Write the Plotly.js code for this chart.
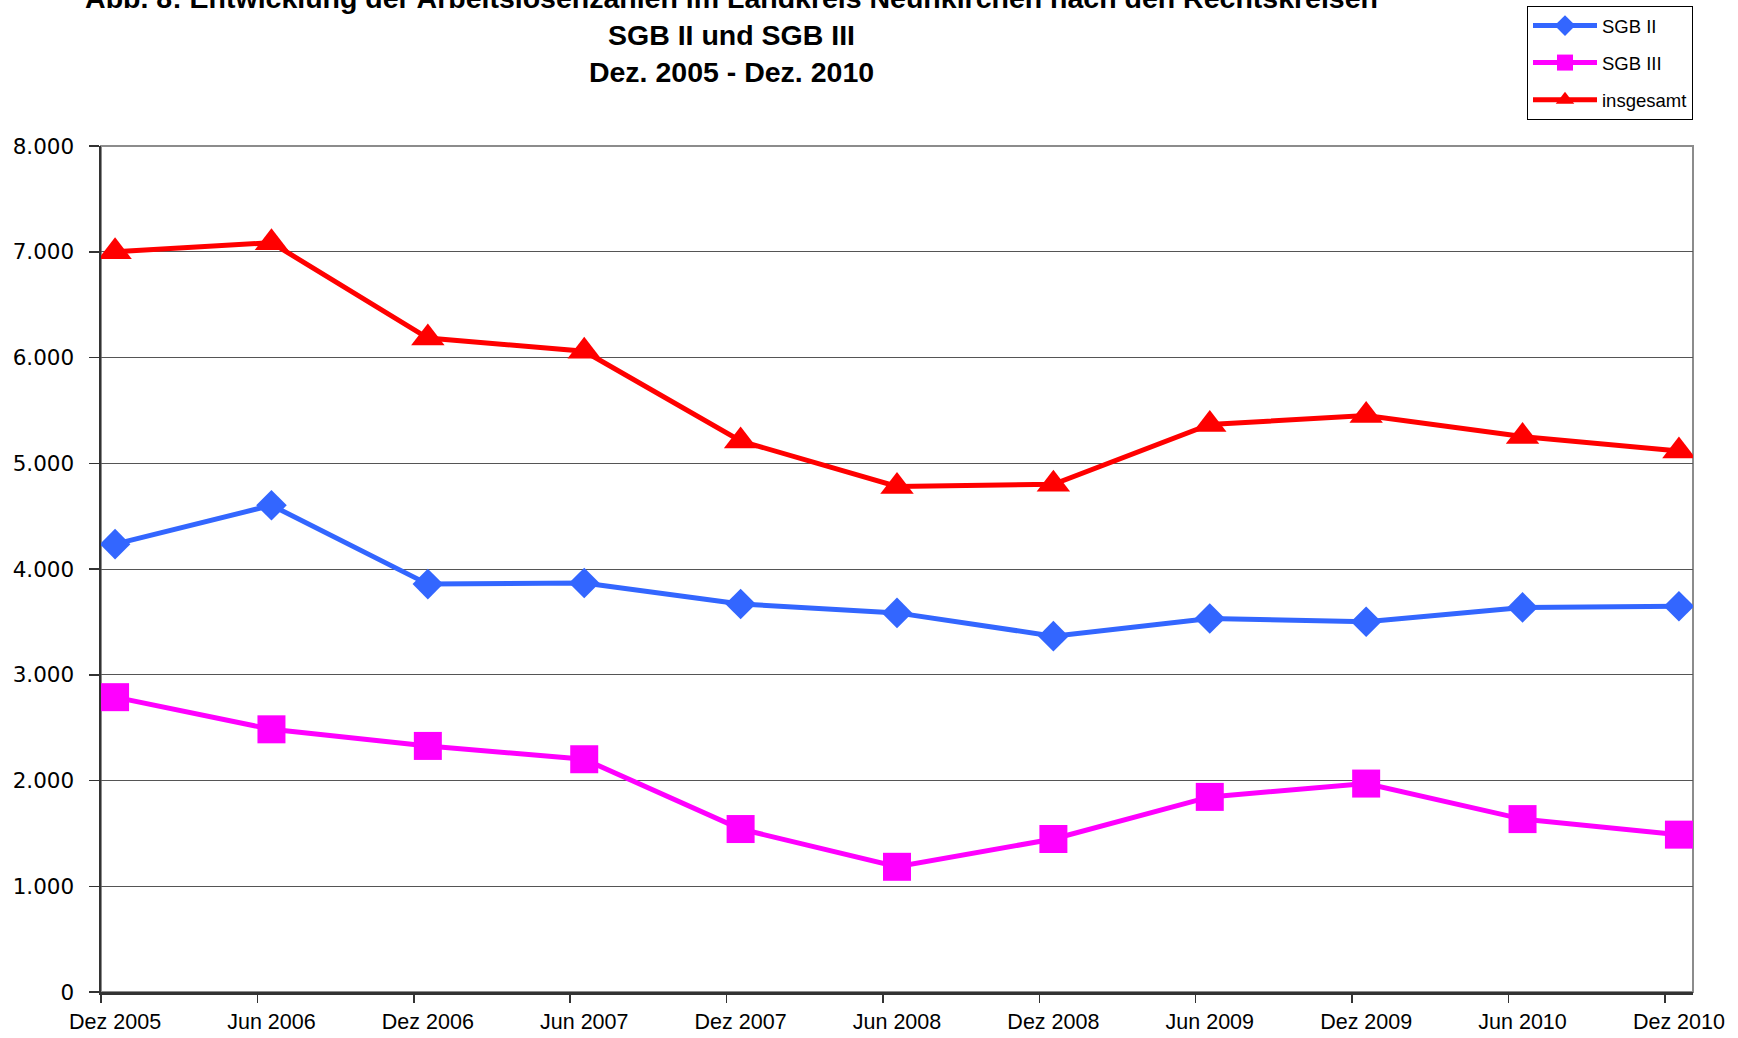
<!DOCTYPE html>
<html>
<head>
<meta charset="utf-8">
<script src="https://cdn.plot.ly/plotly-3.0.1.min.js"></script>
<style>html,body{margin:0;padding:0;background:#fff;}#chart{width:1738px;height:1038px;}</style>
</head>
<body>
<div id="chart"></div>
<script>
// ---- data ----
const periods = ["Dez 2005","Jun 2006","Dez 2006","Jun 2007","Dez 2007","Jun 2008","Dez 2008","Jun 2009","Dez 2009","Jun 2010","Dez 2010"];
const sgb2 = [4235, 4602, 3857, 3868, 3669, 3585, 3365, 3532, 3501, 3637, 3648];
const sgb3 = [2788, 2484, 2327, 2201, 1541, 1184, 1447, 1845, 1971, 1635, 1488];
const insgesamt = [7000, 7086, 6184, 6059, 5210, 4780, 4801, 5367, 5451, 5252, 5115];
const seriesNames = ["SGB II", "SGB III", "insgesamt"];
const titleText = "Abb. 8: Entwicklung der Arbeitslosenzahlen im Landkreis Neunkirchen nach den Rechtskreisen<br>SGB II und SGB III<br>Dez. 2005 - Dez. 2010";

// ---- layout helpers ----
const idx = periods.map((_, i) => i);
const tickShift = 0.09;
const tickPos = idx.map(i => i - tickShift);

const base = (name, y, color, symbol, size, group) => ({
  type: 'scatter', mode: 'lines+markers', name: name, x: idx, y: y,
  xaxis: 'x', yaxis: 'y', legendgroup: group,
  line: {color: color, width: 5},
  marker: {color: color, symbol: symbol, size: size}
});

const traces = [
  base(seriesNames[0], sgb2, '#3366FF', 'diamond', 23.5, 'a'),
  base(seriesNames[1], sgb3, '#FF00FF', 'square', 28, 'b'),
  base(seriesNames[2], insgesamt, '#FF0000', 'triangle-up', 29, 'c')
];

const layout = {
  width: 1738, height: 1038,
  margin: {l: 101, r: 45, t: 146, b: 46, autoexpand: false},
  paper_bgcolor: '#ffffff', plot_bgcolor: '#ffffff',
  separators: ',.',
  font: {family: '"Liberation Sans", Arial, sans-serif', color: '#000'},
  title: {
    text: titleText,
    font: {family: '"Liberation Sans", Arial, sans-serif', size: 28.5, color: '#000', weight: 'bold'},
    xref: 'container', x: 0.4209, xanchor: 'center',
    yref: 'container', y: 0.9925, yanchor: 'middle'
  },
  showlegend: true,
  legend: {
    xref: 'container', yref: 'container',
    x: 1527 / 1738, y: 1 - 6 / 1038,
    xanchor: 'left', yanchor: 'top',
    bordercolor: '#000', borderwidth: 1, bgcolor: '#fff',
    font: {size: 18.5, color: '#000'},
    traceorder: 'grouped', tracegroupgap: 10,
    itemwidth: 64,
    entrywidth: 185
  },
  xaxis: {
    range: [-tickShift, 10 + tickShift], fixedrange: true,
    tickmode: 'array', tickvals: tickPos, ticktext: tickPos.map(() => ''),
    showticklabels: false,
    ticks: 'outside', ticklen: 8, tickwidth: 1.5, tickcolor: '#333',
    showgrid: false, zeroline: false,
    showline: true, linecolor: '#333', linewidth: 2.5
  },
  xaxis2: {
    overlaying: 'x', side: 'bottom', anchor: 'y',
    range: [-tickShift, 10 + tickShift], fixedrange: true,
    tickmode: 'array', tickvals: idx, ticktext: periods,
    ticks: '', showgrid: false, zeroline: false, showline: false,
    tickfont: {size: 21.5, color: '#000'},
    ticklabelstandoff: 14
  },
  yaxis: {
    range: [0, 8000], fixedrange: true,
    tickmode: 'linear', tick0: 0, dtick: 1000,
    tickformat: ',d',
    ticks: 'outside', ticklen: 10, tickwidth: 1.5, tickcolor: '#333',
    tickfont: {family: '"DejaVu Sans", sans-serif', size: 21.5, color: '#000'},
    ticklabelstandoff: 10,
    showgrid: true, gridcolor: '#555555', gridwidth: 1,
    zeroline: false,
    showline: true, linecolor: '#333', linewidth: 2.5
  },
  shapes: [{
    type: 'rect', xref: 'paper', yref: 'paper', x0: 0, x1: 1, y0: 0, y1: 1,
    line: {color: '#8c8c8c', width: 2}, layer: 'below'
  }]
};

// dummy trace to activate xaxis2 for labels
traces.push({type: 'scatter', x: [idx[0]], y: [null], xaxis: 'x2', yaxis: 'y', showlegend: false, hoverinfo: 'skip', mode: 'markers'});

Plotly.newPlot('chart', traces, layout, {displayModeBar: false, staticPlot: true});
</script>
</body>
</html>
